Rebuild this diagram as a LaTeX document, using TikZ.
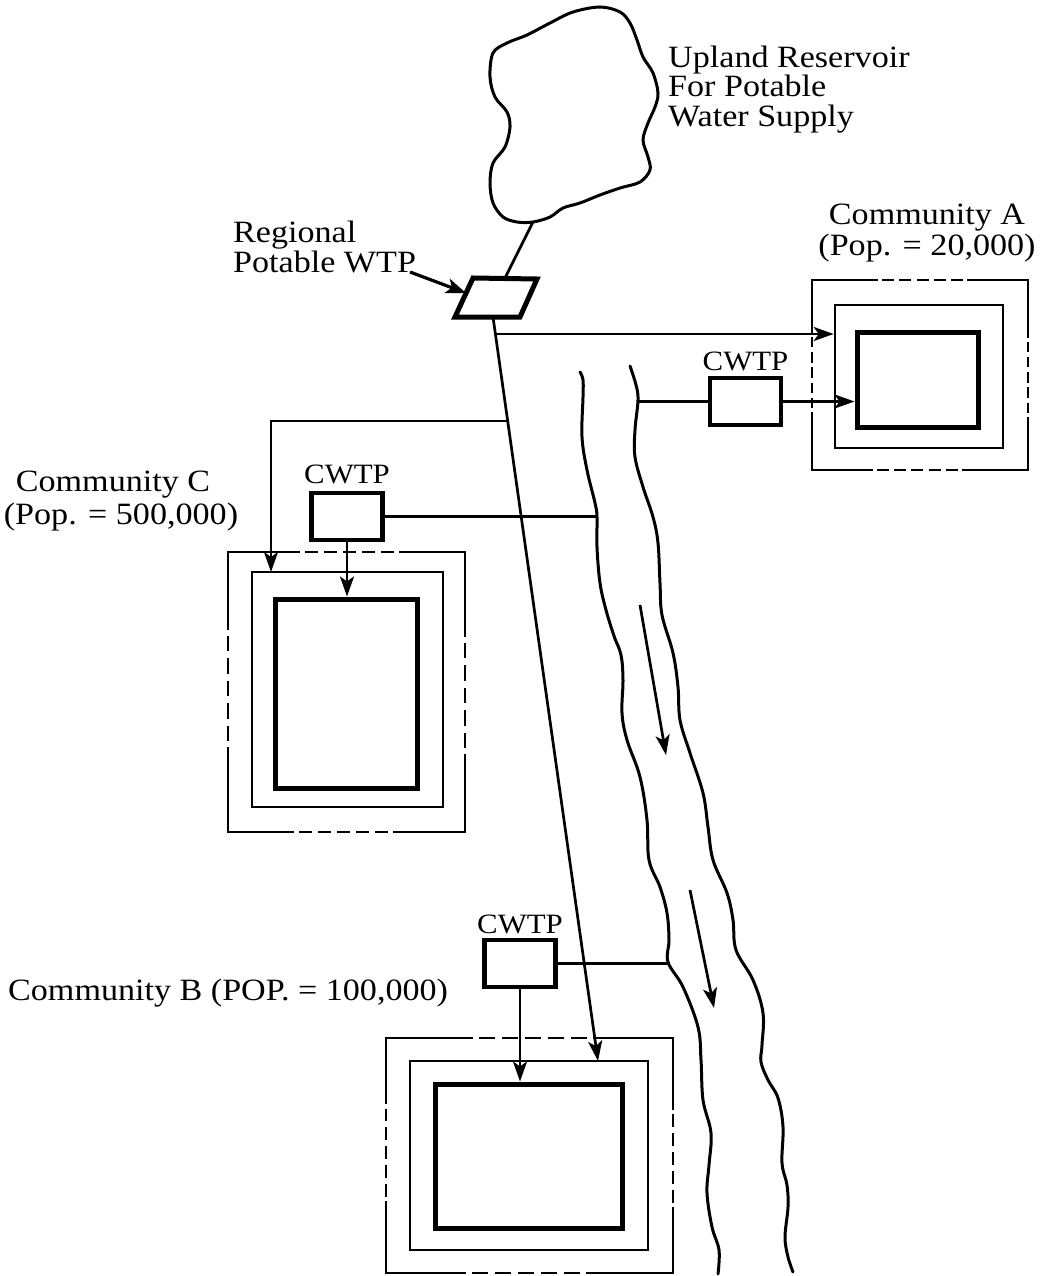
\documentclass[tikz,border=0pt]{standalone}
\usepackage{fontspec}
\setmainfont{Liberation Serif}[FakeStretch=1.1]
\usetikzlibrary{arrows.meta,calc}
\tikzset{
  lab/.style={font=\fontsize{31}{34}\selectfont, inner sep=0pt, anchor=base},
  lableft/.style={lab, anchor=base west},
  cwlab/.style={font=\fontsize{28}{30}\selectfont, inner sep=0pt, anchor=base},
  plant/.style={draw, line width=4.5pt, inner sep=0pt, rectangle, minimum width=71pt, minimum height=47pt},
  core/.style={draw, line width=5pt, inner sep=0pt},
  ring/.style={draw, line width=2.6pt, inner sep=0pt},
  zone/.style={inner sep=0pt, outer sep=0pt},
  zoneline/.style={line width=2.5pt},
  pipe/.style={line width=2.7pt},
  flow/.style={pipe, -{Stealth[length=20pt,width=14pt,inset=5pt]}},
  bank/.style={line width=3pt, line cap=round},
}
\newcommand{\zoneedge}[2]{%
  \draw[zoneline, line cap=rect] (#1) -- ($(#1)!0.3!(#2)$);
  \foreach \t [evaluate=\t as \u using \t+0.055] in {0.325,0.405,0.485,0.565,0.645}
    \draw[zoneline] ($(#1)!\t!(#2)$) -- ($(#1)!\u!(#2)$);
  \draw[zoneline, line cap=rect] ($(#1)!0.725!(#2)$) -- (#2);}
\newcommand{\zoneframe}[1]{%
  \zoneedge{#1.north west}{#1.north east}
  \zoneedge{#1.north east}{#1.south east}
  \zoneedge{#1.south east}{#1.south west}
  \zoneedge{#1.south west}{#1.north west}}
\begin{document}
\begin{tikzpicture}[x=1pt,y=-1pt]
\useasboundingbox (0,0) rectangle (1041,1276);

% Reservoir
\draw[line width=3pt] plot[smooth cycle, tension=0.55] coordinates {
 (493,53) (490,77) (495,97) (507,112) (510,127) (505,147) (493,163) (490,183)
 (493,203) (503,217) (517,222) (533,222) (550,217) (563,208) (580,203) (600,195)
 (620,188) (640,182) (650,170) (648,157) (643,140) (648,123) (655,107) (658,93)
 (653,73) (643,57) (637,40) (630,23) (620,12) (600,7) (573,12) (550,23) (527,35) (507,43)};
\coordinate (resout) at (533,222);
\node[lableft] (up1) at (668,68) {Upland Reservoir};
\node[lableft] (up2) at (668,97) {For Potable};
\node[lableft] (up3) at (668,127) {Water Supply};

% Regional WTP
\draw[line width=5pt, line join=miter] (473,278) -- (537,279) -- (520,317) -- (455,317) -- cycle;
\coordinate (wtptop) at (505,278);
\coordinate (wtpbot) at (493,317);
\coordinate (wtpleft) at (466,293);
\node[lableft] (reg1) at (233,242) {Regional};
\node[lableft] (reg2) at (233,272) {Potable WTP};
\coordinate (regtail) at (410,272);
\draw[line width=3.2pt, -{Stealth[length=20pt,width=15pt,inset=5pt]}] (regtail) -- (wtpleft);
\draw[pipe] (resout) -- (wtptop);

% Community A
\node[zone, minimum width=216pt, minimum height=190pt] (Aout) at (920,375) {};
\node[ring, minimum width=168pt, minimum height=143pt] (Amid) at (919,376.5) {};
\node[core, minimum width=121pt, minimum height=95pt] (Ain) at (917.5,379.5) {};
\zoneframe{Aout}
\node[lab] (Alab1) at (927,224) {Community A};
\node[lab] (Alab2) at (927,255) {(Pop. = 20,000)};
\node[plant] (cwA) at (745.5,401.5) {};
\node[cwlab] (cwAlab) at (745.5,370) {CWTP};

% Community C
\node[zone, minimum width=237pt, minimum height=280pt] (Cout) at (346.5,692) {};
\node[ring, minimum width=191pt, minimum height=235pt] (Cmid) at (347.5,689.5) {};
\node[core, minimum width=142pt, minimum height=189pt] (Cin) at (346,693.5) {};
\zoneframe{Cout}
\node[lab] (Clab1) at (113,491) {Community C};
\node[lab] (Clab2) at (121,524) {(Pop. = 500,000)};
\node[plant] (cwC) at (347,516.5) {};
\node[cwlab] (cwClab) at (347,483) {CWTP};

% Community B
\node[zone, minimum width=287pt, minimum height=235pt] (Bout) at (529.5,1155.5) {};
\node[ring, minimum width=238pt, minimum height=189pt] (Bmid) at (529,1155.5) {};
\node[core, minimum width=187pt, minimum height=144pt] (Bin) at (528.5,1156) {};
\zoneframe{Bout}
\node[lableft] (Blab) at (8,1000) {Community B (POP. = 100,000)};
\node[plant] (cwB) at (520,963.5) {};
\node[cwlab] (cwBlab) at (520,933) {CWTP};

% River
\draw[bank] plot[smooth, tension=0.6] coordinates {
 (580,372) (583,380) (583,397) (582,437) (587,470) (595,503) (597,517) (597,547)
 (600,583) (606,610) (614,636) (621,655) (623,680) (622,713) (627,740) (640,777)
 (647,820) (649,860) (660,887) (667,913) (669,940) (668,962) (683,987) (698,1027)
 (701,1060) (703,1100) (711,1133) (709,1165) (707,1193) (712,1227) (719,1250) (718,1274)};
\draw[bank] plot[smooth, tension=0.6] coordinates {
 (630,366) (636,385) (638,400) (635,430) (635,457) (643,487) (653,517) (658,543)
 (660,583) (662,615) (673,653) (678,687) (680,720) (690,753) (703,793) (708,827)
 (713,860) (727,893) (733,920) (736,950) (753,980) (763,1013) (762,1045) (761,1062)
 (768,1080) (778,1098) (783,1127) (782,1163) (787,1185) (788,1207) (785,1237) (788,1257) (793,1272)};
\coordinate (rA) at (638,401.5);
\coordinate (rC) at (597,516.5);
\coordinate (rB) at (668,963.5);
\coordinate (f1s) at (640,605);
\coordinate (f1e) at (666,755);
\coordinate (f2s) at (690,890);
\coordinate (f2e) at (714,1008);
\draw[flow] (f1s) -- (f1e);
\draw[flow] (f2s) -- (f2e);

% Distribution from regional WTP
\coordinate (Bhit) at (598,1061);
\coordinate (Abr) at (496,334);
\coordinate (Cbr) at (508,421);
\coordinate (Chit) at (271,572);
\draw[flow] (wtpbot) -- (Bhit);
\draw[flow] (Abr) -- (Abr -| Amid.west);
\draw[flow] (Cbr) -| (Chit);

% Community treatment plants
\draw[pipe] (rA) -- (cwA.west);
\draw[flow] (cwA.east) -- (cwA.east -| Ain.west);
\draw[pipe] (cwC.east) -- (rC);
\draw[flow] (cwC.south) -- (cwC.south |- Cin.north);
\draw[pipe] (cwB.east) -- (rB);
\draw[flow] (cwB.south) -- (cwB.south |- Bin.north);
\end{tikzpicture}
\end{document}
